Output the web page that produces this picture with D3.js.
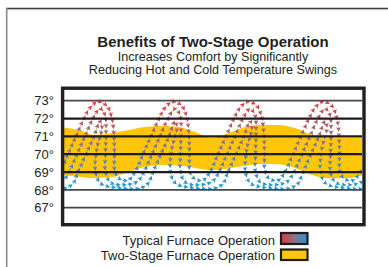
<!DOCTYPE html>
<html>
<head>
<meta charset="utf-8">
<script src="https://cdn.jsdelivr.net/npm/d3@7"></script>
<style>
  body { margin: 0; background: #fff; }
  svg { display: block; font-family: "Liberation Sans", Arial, sans-serif; }
</style>
</head>
<body>
<div id="chart"></div>
<script>
"use strict";

// temperature ticks (degrees F)
const tempTicks = [67, 68, 69, 70, 71, 72, 73];
const darkTicks = [69, 70, 71, 72];

// two-stage furnace band: time, upper edge, lower edge
const bandTime = [-2, 15, 31, 48, 65, 81, 98, 115, 131, 148, 165, 181, 198, 215, 231, 248, 265, 281, 300];
const bandHigh = [71.51, 71.36, 71.08, 71.19, 71.36, 71.53, 71.58, 71.53, 71.24, 70.91, 71.19, 71.53, 71.64, 71.64, 71.47, 71.08, 70.91, 70.91, 70.92];
const bandLow  = [68.83, 68.74, 68.66, 68.72, 69.0, 69.28, 69.4, 69.37, 69.23, 69.11, 69.2, 69.35, 69.45, 69.43, 69.23, 68.83, 68.65, 68.65, 68.83];

// typical furnace: three looping strands, [time, temperature]
const strandOuter = [
  [-41, 72.95], [-32, 72.7], [-27, 72.0], [-25, 71.0], [-24.5, 70.0], [-24, 69.0], [-19, 68.6], [-10.5, 68.55],
  [-4, 69.0], [4, 70.0], [12, 71.0], [20, 72.0], [26, 72.6], [34, 72.95], [43, 72.7], [48, 72.0], [50, 71.0], [50.5, 70.0], [51, 69.0], [56, 68.6], [64.5, 68.55],
  [71, 69.0], [79, 70.0], [87, 71.0], [95, 72.0], [101, 72.6], [109, 72.95], [118, 72.7], [123, 72.0], [125, 71.0], [125.5, 70.0], [126, 69.0], [131, 68.6], [139.5, 68.55],
  [146, 69.0], [154, 70.0], [162, 71.0], [170, 72.0], [176, 72.6], [184, 72.95], [193, 72.7], [198, 72.0], [200, 71.0], [200.5, 70.0], [201, 69.0], [206, 68.6], [214.5, 68.55],
  [221, 69.0], [229, 70.0], [237, 71.0], [245, 72.0], [251, 72.6], [259, 72.95], [268, 72.7], [273, 72.0], [275, 71.0], [275.5, 70.0], [276, 69.0], [281, 68.6], [289.5, 68.55],
  [296, 69.0], [304, 70.0]
];
const strandMiddle = [
  [-39, 72.55], [-34, 72.2], [-33, 71.2], [-33.5, 70.0], [-33.5, 69.0], [-28, 68.4], [-10.5, 68.3], [-1, 68.5],
  [5, 69.0], [13, 70.0], [21, 71.0], [29, 72.0], [36, 72.55], [41, 72.2], [42, 71.2], [41.5, 70.0], [41.5, 69.0], [47, 68.4], [64.5, 68.3], [74, 68.5],
  [80, 69.0], [88, 70.0], [96, 71.0], [104, 72.0], [111, 72.55], [116, 72.2], [117, 71.2], [116.5, 70.0], [116.5, 69.0], [122, 68.4], [139.5, 68.3], [149, 68.5],
  [155, 69.0], [163, 70.0], [171, 71.0], [179, 72.0], [186, 72.55], [191, 72.2], [192, 71.2], [191.5, 70.0], [191.5, 69.0], [197, 68.4], [214.5, 68.3], [224, 68.5],
  [230, 69.0], [238, 70.0], [246, 71.0], [254, 72.0], [261, 72.55], [266, 72.2], [267, 71.2], [266.5, 70.0], [266.5, 69.0], [272, 68.4], [289.5, 68.3], [299, 68.5],
  [305, 69.0]
];
const strandInner = [
  [-39, 71.85], [-37, 71.5], [-41, 70.6], [-43, 70.0], [-43.5, 69.0], [-38, 68.35], [-18, 68.1], [0, 68.08], [9, 68.35],
  [14, 69.0], [22, 70.0], [30, 71.0], [36, 71.85], [38, 71.5], [34, 70.6], [32, 70.0], [31.5, 69.0], [37, 68.35], [57, 68.1], [75, 68.08], [84, 68.35],
  [89, 69.0], [97, 70.0], [105, 71.0], [111, 71.85], [113, 71.5], [109, 70.6], [107, 70.0], [106.5, 69.0], [112, 68.35], [132, 68.1], [150, 68.08], [159, 68.35],
  [164, 69.0], [172, 70.0], [180, 71.0], [186, 71.85], [188, 71.5], [184, 70.6], [182, 70.0], [181.5, 69.0], [187, 68.35], [207, 68.1], [225, 68.08], [234, 68.35],
  [239, 69.0], [247, 70.0], [255, 71.0], [261, 71.85], [263, 71.5], [259, 70.6], [257, 70.0], [256.5, 69.0], [262, 68.35], [282, 68.1], [300, 68.08], [309, 68.35]
];

const legendLabels = ["Typical Furnace Operation", "Two-Stage Furnace Operation"];
const titleText = "Benefits of Two-Stage Operation";
const subtitleLines = ["Increases Comfort by Significantly", "Reducing Hot and Cold Temperature Swings"];

const width = 388, height = 267;
const svg = d3.select("#chart").append("svg")
  .attr("width", width).attr("height", height);

const x = d3.scaleLinear().domain([0, 298]).range([64, 362]);
const y = d3.scaleLinear().domain([67, 73]).range([207.7, 100.7]);

const defs = svg.append("defs");
defs.append("clipPath").attr("id", "plotClip")
  .append("rect").attr("x", 64).attr("y", 90).attr("width", 298).attr("height", 133);

const lineGrad = defs.append("linearGradient").attr("id", "lineGrad")
  .attr("gradientUnits", "userSpaceOnUse")
  .attr("x1", 0).attr("x2", 0).attr("y1", y(73)).attr("y2", y(68.1));
lineGrad.append("stop").attr("offset", "0%").attr("stop-color", "#e23a3a");
lineGrad.append("stop").attr("offset", "40%").attr("stop-color", "#9c6470");
lineGrad.append("stop").attr("offset", "65%").attr("stop-color", "#6c7e9c");
lineGrad.append("stop").attr("offset", "100%").attr("stop-color", "#1c98d6");

const swatchGrad = defs.append("linearGradient").attr("id", "swatchGrad");
swatchGrad.append("stop").attr("offset", "0%").attr("stop-color", "#da3b3b");
swatchGrad.append("stop").attr("offset", "50%").attr("stop-color", "#8a7088");
swatchGrad.append("stop").attr("offset", "100%").attr("stop-color", "#1f96d3");

// outer frame
svg.append("line").attr("x1", 6).attr("x2", width).attr("y1", 8.5).attr("y2", 8.5)
  .attr("stroke", "#3a3a3a").attr("stroke-width", 1.5);
svg.append("line").attr("x1", 6).attr("x2", width).attr("y1", 9.8).attr("y2", 9.8)
  .attr("stroke", "#c8c8c8").attr("stroke-width", 1);
svg.append("line").attr("x1", 6.7).attr("x2", 6.7).attr("y1", 8).attr("y2", height)
  .attr("stroke", "#8a8a8a").attr("stroke-width", 1.6);

// titles
svg.append("text").attr("x", 213).attr("y", 46.5).attr("text-anchor", "middle")
  .style("font-size", "15px").style("font-weight", "bold").attr("fill", "#231f20")
  .text(titleText);
svg.selectAll(".sub").data(subtitleLines).enter().append("text")
  .attr("class", "sub")
  .attr("x", 213).attr("y", (d, i) => 61 + i * 13.3)
  .attr("text-anchor", "middle")
  .style("font-size", "12.6px").attr("fill", "#231f20")
  .text(d => d);

const plot = svg.append("g").attr("clip-path", "url(#plotClip)");

// yellow band
const bandData = bandTime.map((t, i) => ({ t: t, hi: bandHigh[i], lo: bandLow[i] }));
const area = d3.area()
  .x(d => x(d.t)).y0(d => y(d.lo)).y1(d => y(d.hi))
  .curve(d3.curveMonotoneX);
plot.append("path").datum(bandData).attr("d", area).attr("fill", "#ffc60b");

// gridlines
svg.append("g").selectAll("line").data(tempTicks).enter().append("line")
  .attr("x1", 64).attr("x2", 362)
  .attr("y1", d => y(d)).attr("y2", d => y(d))
  .attr("stroke", d => darkTicks.includes(d) ? "#1e1b1c" : "#4a4748")
  .attr("stroke-width", d => darkTicks.includes(d) ? 2.2 : 1.8);

// y labels
svg.append("g").selectAll("text").data(tempTicks).enter().append("text")
  .attr("x", 54).attr("y", d => y(d)).attr("dy", "0.36em")
  .attr("text-anchor", "end")
  .style("font-size", "13px").attr("fill", "#231f20")
  .text(d => d + "\u00B0");

// typical furnace strands
const line = d3.line().x(d => x(d[0])).y(d => y(d[1])).curve(d3.curveCatmullRom.alpha(0.5));
const arrowColor = d3.scaleLinear()
  .domain([y(72.9), y(71.3), y(70.0), y(68.2)])
  .range(["#e23a3a", "#a26470", "#6f7d9a", "#1c98d6"]);

[strandOuter, strandMiddle, strandInner].forEach(strand => {
  const path = plot.append("path").datum(strand).attr("d", line)
    .attr("fill", "none").attr("stroke", "url(#lineGrad)")
    .attr("stroke-width", 1).attr("stroke-dasharray", "1.5,4.5");
  const node = path.node();
  const total = node.getTotalLength();
  for (let l = 3; l < total - 1; l += 6) {
    const p = node.getPointAtLength(l);
    if (p.x < 63 || p.x > 363) continue;
    const q = node.getPointAtLength(l + 0.8);
    const ang = Math.atan2(q.y - p.y, q.x - p.x) * 180 / Math.PI;
    plot.append("path")
      .attr("d", "M2.6,0L-2,-2.4L-1,0L-2,2.4Z")
      .attr("transform", `translate(${p.x},${p.y}) rotate(${ang})`)
      .attr("fill", arrowColor(p.y));
  }
});

// plot frame
svg.append("rect").attr("x", 62.6).attr("y", 88.2).attr("width", 301.4).attr("height", 136.5)
  .attr("fill", "none").attr("stroke", "#231f20").attr("stroke-width", 3.4);

// legend
const legend = svg.append("g");
legend.selectAll("text").data(legendLabels).enter().append("text")
  .attr("x", 275).attr("y", (d, i) => 244.5 + i * 15.5)
  .attr("text-anchor", "end")
  .style("font-size", "13px").attr("fill", "#231f20")
  .text(d => d);
legend.selectAll("rect").data(legendLabels).enter().append("rect")
  .attr("x", 281).attr("y", (d, i) => 233 + i * 16.5)
  .attr("width", 26.5).attr("height", (d, i) => i === 0 ? 11 : 10.5)
  .attr("fill", (d, i) => i === 0 ? "url(#swatchGrad)" : "#ffc60b")
  .attr("stroke", "#1e1b1c").attr("stroke-width", 2.2);
</script>
</body>
</html>
